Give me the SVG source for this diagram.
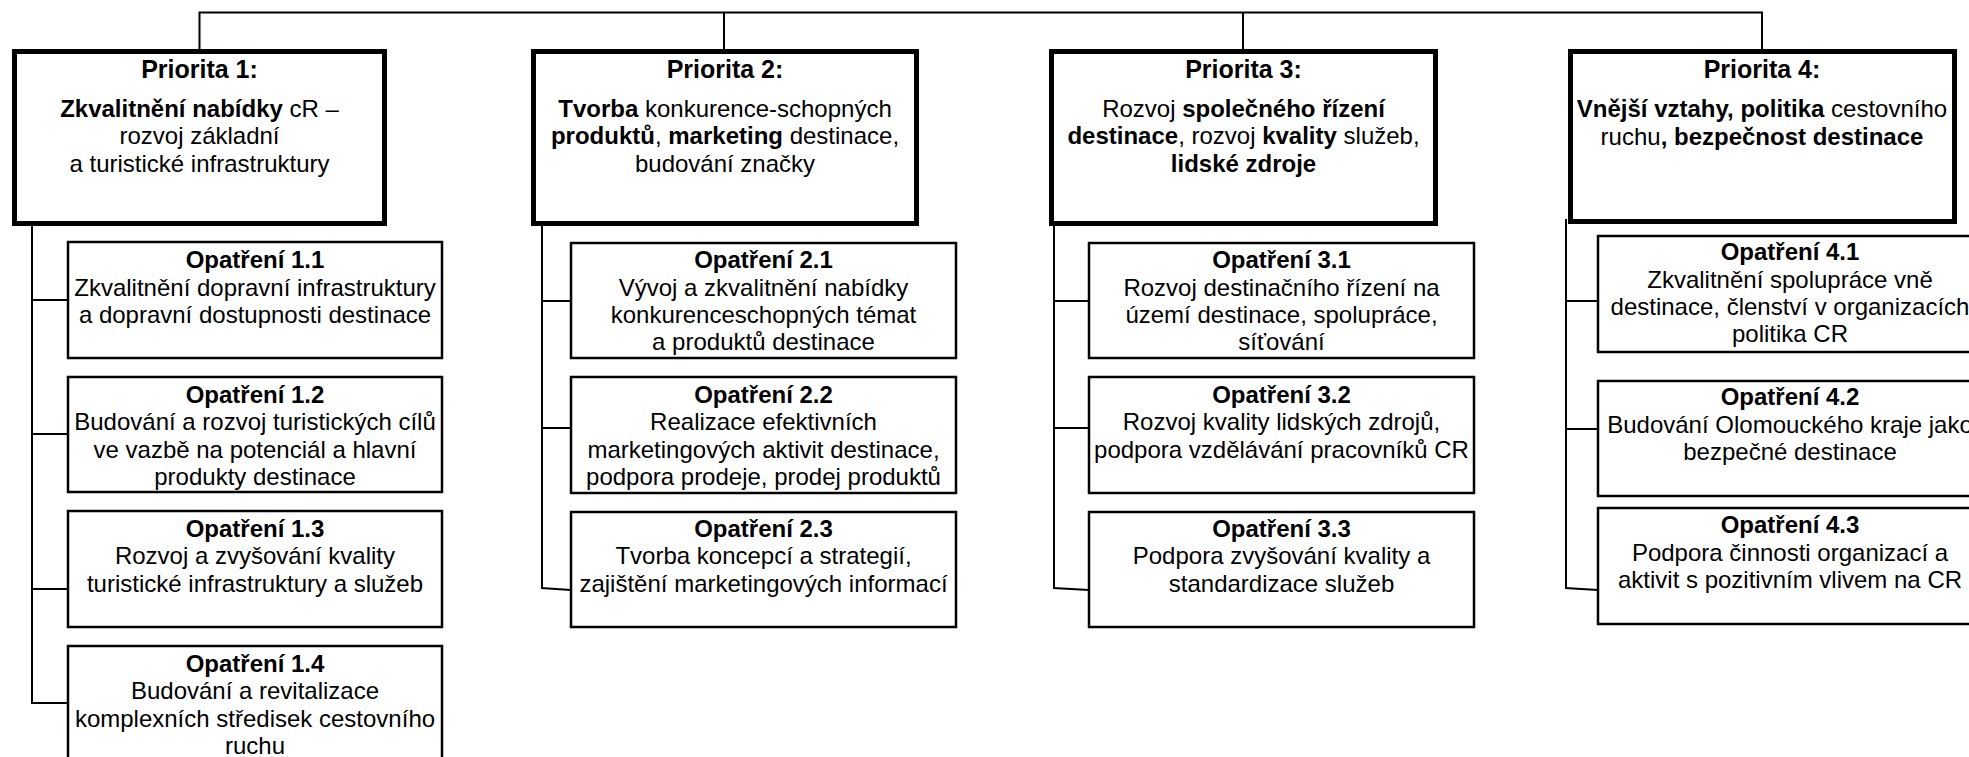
<svg xmlns="http://www.w3.org/2000/svg" width="1969" height="757" viewBox="0 0 1969 757">
<style>
  text { font-family: "Liberation Sans", Arial, sans-serif; fill: #000; text-anchor: middle; }
  .ph { font-size: 25px; font-weight: bold; }
  .pb { font-size: 24px; }
  .mh { font-size: 24px; font-weight: bold; }
  .mb { font-size: 24px; }
  .b { font-weight: bold; }
  .pbox { fill: #fff; stroke: #000; stroke-width: 5; }
  .mbox { fill: #fff; stroke: #000; stroke-width: 2.5; }
  .conn { fill: none; stroke: #000; stroke-width: 2; }
</style>
<rect width="1969" height="757" fill="#fff"/>
<g id="connectors">
  <polyline class="conn" points="199.5,49 199.5,12.5 1762,12.5 1762,49"/>
  <line class="conn" x1="724" y1="12.5" x2="724" y2="49"/>
  <line class="conn" x1="1243" y1="12.5" x2="1243" y2="49"/>
  <line class="conn" x1="32" y1="224" x2="32" y2="703"/>
  <line class="conn" x1="32" y1="300" x2="68" y2="300"/>
  <line class="conn" x1="32" y1="434" x2="68" y2="434"/>
  <line class="conn" x1="32" y1="589" x2="68" y2="589"/>
  <line class="conn" x1="31" y1="703" x2="68" y2="703"/>
  <line class="conn" x1="542" y1="220" x2="542" y2="589"/>
  <line class="conn" x1="542" y1="301" x2="571" y2="301"/>
  <line class="conn" x1="542" y1="428" x2="571" y2="428"/>
  <line class="conn" x1="541" y1="588" x2="571" y2="590"/>
  <line class="conn" x1="1054" y1="220" x2="1054" y2="589"/>
  <line class="conn" x1="1054" y1="301" x2="1089" y2="301"/>
  <line class="conn" x1="1054" y1="428" x2="1089" y2="428"/>
  <line class="conn" x1="1053" y1="588" x2="1089" y2="590"/>
  <line class="conn" x1="1566" y1="219" x2="1566" y2="589"/>
  <line class="conn" x1="1566" y1="301" x2="1598" y2="301"/>
  <line class="conn" x1="1566" y1="429" x2="1598" y2="429"/>
  <line class="conn" x1="1565" y1="588" x2="1598" y2="590"/>
</g>
<g id="p1">
  <rect class="pbox" x="14.5" y="51.5" width="370" height="172"/>
  <text class="ph" x="199.5" y="78">Priorita 1:</text>
  <text class="pb" x="199.5" y="117"><tspan class="b">Zkvalitnění nabídky</tspan> cR –</text>
  <text class="pb" x="199.5" y="144">rozvoj základní</text>
  <text class="pb" x="199.5" y="172">a turistické infrastruktury</text>
</g>
<g id="p2">
  <rect class="pbox" x="533.5" y="51.5" width="383" height="172"/>
  <text class="ph" x="725" y="78">Priorita 2:</text>
  <text class="pb" x="725" y="117"><tspan class="b">Tvorba</tspan> konkurence-schopných</text>
  <text class="pb" x="725" y="144"><tspan class="b">produktů</tspan>, <tspan class="b">marketing</tspan> destinace,</text>
  <text class="pb" x="725" y="172">budování značky</text>
</g>
<g id="p3">
  <rect class="pbox" x="1051.5" y="51.5" width="384" height="172"/>
  <text class="ph" x="1243.5" y="78">Priorita 3:</text>
  <text class="pb" x="1243.5" y="117">Rozvoj <tspan class="b">společného řízení</tspan></text>
  <text class="pb" x="1243.5" y="144"><tspan class="b">destinace</tspan>, rozvoj <tspan class="b">kvality</tspan> služeb,</text>
  <text class="pb b" x="1243.5" y="172">lidské zdroje</text>
</g>
<g id="p4">
  <rect class="pbox" x="1570.5" y="51.5" width="384" height="170"/>
  <text class="ph" x="1762" y="78">Priorita 4:</text>
  <text class="pb" x="1762" y="117"><tspan class="b">Vnější vztahy, politika</tspan> cestovního</text>
  <text class="pb" x="1762" y="145">ruchu<tspan class="b">, bezpečnost destinace</tspan></text>
</g>
<g id="m11">
  <rect class="mbox" x="68" y="242" width="374" height="116"/>
  <text class="mh" x="255" y="267.5">Opatření 1.1</text>
  <text class="mb" x="255" y="295.5">Zkvalitnění dopravní infrastruktury</text>
  <text class="mb" x="255" y="322.5">a dopravní dostupnosti destinace</text>
</g>
<g id="m12">
  <rect class="mbox" x="68" y="377" width="374" height="115"/>
  <text class="mh" x="255" y="402.5">Opatření 1.2</text>
  <text class="mb" x="255" y="430">Budování a rozvoj turistických cílů</text>
  <text class="mb" x="255" y="457.5">ve vazbě na potenciál a hlavní</text>
  <text class="mb" x="255" y="485">produkty destinace</text>
</g>
<g id="m13">
  <rect class="mbox" x="68" y="511" width="374" height="116"/>
  <text class="mh" x="255" y="536.5">Opatření 1.3</text>
  <text class="mb" x="255" y="564">Rozvoj a zvyšování kvality</text>
  <text class="mb" x="255" y="591.5">turistické infrastruktury a služeb</text>
</g>
<g id="m14">
  <rect class="mbox" x="68" y="646" width="374" height="120"/>
  <text class="mh" x="255" y="671.5">Opatření 1.4</text>
  <text class="mb" x="255" y="699">Budování a revitalizace</text>
  <text class="mb" x="255" y="726.5">komplexních středisek cestovního</text>
  <text class="mb" x="255" y="754">ruchu</text>
</g>
<g id="m21">
  <rect class="mbox" x="571" y="243" width="385" height="115"/>
  <text class="mh" x="763.5" y="268">Opatření 2.1</text>
  <text class="mb" x="763.5" y="296">Vývoj a zkvalitnění nabídky</text>
  <text class="mb" x="763.5" y="323">konkurenceschopných témat</text>
  <text class="mb" x="763.5" y="350">a produktů destinace</text>
</g>
<g id="m22">
  <rect class="mbox" x="571" y="377" width="385" height="116"/>
  <text class="mh" x="763.5" y="402.5">Opatření 2.2</text>
  <text class="mb" x="763.5" y="430">Realizace efektivních</text>
  <text class="mb" x="763.5" y="457.5">marketingových aktivit destinace,</text>
  <text class="mb" x="763.5" y="485">podpora prodeje, prodej produktů</text>
</g>
<g id="m23">
  <rect class="mbox" x="571" y="512" width="385" height="115"/>
  <text class="mh" x="763.5" y="537">Opatření 2.3</text>
  <text class="mb" x="763.5" y="564">Tvorba koncepcí a strategií,</text>
  <text class="mb" x="763.5" y="591.5">zajištění marketingových informací</text>
</g>
<g id="m31">
  <rect class="mbox" x="1089" y="243" width="385" height="115"/>
  <text class="mh" x="1281.5" y="268">Opatření 3.1</text>
  <text class="mb" x="1281.5" y="296">Rozvoj destinačního řízení na</text>
  <text class="mb" x="1281.5" y="323">území destinace, spolupráce,</text>
  <text class="mb" x="1281.5" y="350">síťování</text>
</g>
<g id="m32">
  <rect class="mbox" x="1089" y="377" width="385" height="116"/>
  <text class="mh" x="1281.5" y="402.5">Opatření 3.2</text>
  <text class="mb" x="1281.5" y="430">Rozvoj kvality lidských zdrojů,</text>
  <text class="mb" x="1281.5" y="457.5">podpora vzdělávání pracovníků CR</text>
</g>
<g id="m33">
  <rect class="mbox" x="1089" y="512" width="385" height="115"/>
  <text class="mh" x="1281.5" y="537">Opatření 3.3</text>
  <text class="mb" x="1281.5" y="564">Podpora zvyšování kvality a</text>
  <text class="mb" x="1281.5" y="591.5">standardizace služeb</text>
</g>
<g id="m41">
  <rect class="mbox" x="1598" y="236" width="384" height="116"/>
  <text class="mh" x="1790" y="260">Opatření 4.1</text>
  <text class="mb" x="1790" y="288">Zkvalitnění spolupráce vně</text>
  <text class="mb" x="1790" y="315">destinace, členství v organizacích</text>
  <text class="mb" x="1790" y="342">politika CR</text>
</g>
<g id="m42">
  <rect class="mbox" x="1598" y="381" width="384" height="115"/>
  <text class="mh" x="1790" y="405">Opatření 4.2</text>
  <text class="mb" x="1790" y="433">Budování Olomouckého kraje jako</text>
  <text class="mb" x="1790" y="460">bezpečné destinace</text>
</g>
<g id="m43">
  <rect class="mbox" x="1598" y="508" width="384" height="116"/>
  <text class="mh" x="1790" y="533">Opatření 4.3</text>
  <text class="mb" x="1790" y="561">Podpora činnosti organizací a</text>
  <text class="mb" x="1790" y="588">aktivit s pozitivním vlivem na CR</text>
</g>
</svg>
